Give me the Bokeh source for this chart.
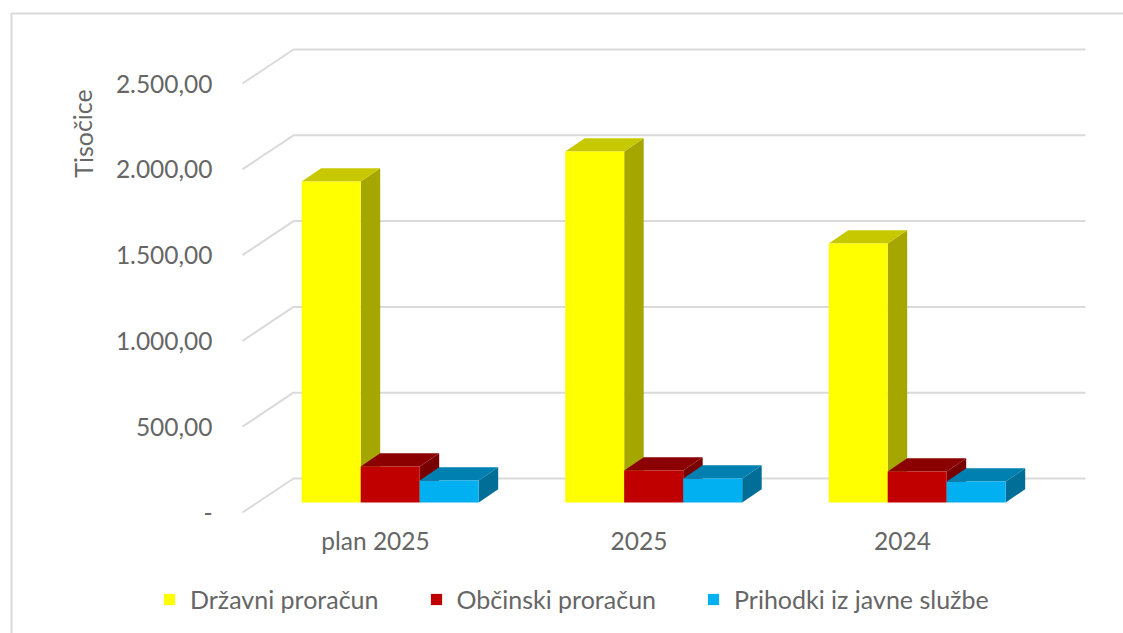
from bokeh.plotting import figure
from bokeh.models import Range1d, FixedTicker, Legend, LegendItem, BoxAnnotation, LinearAxis
from bokeh.core.properties import value
from bokeh.embed import file_html
from bokeh.resources import INLINE

categories = ["plan 2025", "2025", "2024"]
series_names = ["Državni proračun", "Občinski proračun", "Prihodki iz javne službe"]
drzavni = [1871, 2045, 1509]
obcinski = [210, 186, 181]
prihodki = [128, 140, 122]
axis_ticks = [0, 500, 1000, 1500, 2000, 2500]
axis_labels = ["-", "500,00", "1.000,00", "1.500,00", "2.000,00", "2.500,00"]
y_title = "Tisočice"

front_colors = ["#FFFF00", "#C00000", "#00B0F0"]
top_colors = ["#C8C800", "#8B0000", "#0080B0"]
side_colors = ["#A6A600", "#780000", "#006E96"]

# pixel geometry of the pseudo-3D projection
FONT = "Lato"
TXT = "#666666"
PX_X = 263.5           # pixels per category
PX_Y = 0.1716          # pixels per value unit
GROUP0 = 301.2
FRAME_L, FRAME_B = 242, 520
FLOOR_Y = 512
W, H = 1123, 633


def px_x(px):
    return (px - GROUP0) / PX_X


def px_y(px):
    return (FLOOR_Y - px) / PX_Y


bw = 59 / PX_X
bar_dx, bar_dy = 19.5 / PX_X, 13.3 / PX_Y
wall_dx, wall_dy = 51 / PX_X, 34 / PX_Y
inset = 10 / PX_Y
left_edge = px_x(FRAME_L)

p = figure(width=W, height=H, output_backend="svg", toolbar_location=None,
           x_range=Range1d(px_x(0), px_x(W)), y_range=Range1d(px_y(H), px_y(0)),
           min_border_left=0, min_border_right=0, min_border_top=0, min_border_bottom=0,
           outline_line_color=None, background_fill_color="white",
           border_fill_color="white", x_axis_type=None, y_axis_type=None)
p.grid.visible = False

# walls
for t in axis_ticks:
    p.line([left_edge, left_edge + wall_dx, px_x(1085)],
           [t, t + wall_dy, t + wall_dy], line_color="#DADADA", line_width=2)

# bars
items = []
n = len(categories)
for j, vals in enumerate([drzavni, obcinski, prihodki]):
    xl = [i + j * bw for i in range(n)]
    xr = [x + bw for x in xl]
    top = [v + inset for v in vals]
    p.patches([[r, r + bar_dx, r + bar_dx, r] for r in xr],
              [[inset, inset + bar_dy, t + bar_dy, t] for t in top],
              fill_color=side_colors[j], line_color=None)
    p.patches([[l, l + bar_dx, r + bar_dx, r] for l, r in zip(xl, xr)],
              [[t, t + bar_dy, t + bar_dy, t] for t in top],
              fill_color=top_colors[j], line_color=None)
    r = p.quad(left=xl, right=xr, bottom=[inset] * n, top=top,
               fill_color=front_colors[j], line_color=None)
    items.append(LegendItem(label=series_names[j], renderers=[r]))

# axes, pinned inside the full-canvas frame
yax = LinearAxis(ticker=FixedTicker(ticks=axis_ticks),
                 major_label_overrides=dict(zip(axis_ticks, axis_labels)),
                 fixed_location=left_edge, axis_line_color=None,
                 major_tick_line_color=None, minor_tick_line_color=None,
                 major_tick_out=0, major_tick_in=0, major_label_standoff=30,
                 major_label_text_font=FONT, major_label_text_font_size="24.5px",
                 major_label_text_color=TXT)
p.add_layout(yax, "left")

label_pos = [i + px_x(375) for i in range(n)]
xax = LinearAxis(ticker=FixedTicker(ticks=label_pos),
                 major_label_overrides=dict(zip(label_pos, categories)),
                 fixed_location=px_y(FRAME_B), axis_line_color=None,
                 major_tick_line_color=None, minor_tick_line_color=None,
                 major_tick_out=0, major_tick_in=0, major_label_standoff=5,
                 major_label_text_font=FONT, major_label_text_font_size="24.5px",
                 major_label_text_color=TXT)
p.add_layout(xax, "below")

p.text(x=[px_x(82)], y=[px_y(133)], text=[y_title], angle=1.5708, angle_units="rad",
       text_font=value(FONT), text_font_size="25px", text_color=TXT,
       text_align="center", text_baseline="middle")

legend = Legend(items=items, orientation="horizontal", location=(162, 633 - 614),
                glyph_width=14, glyph_height=14, label_standoff=14, spacing=50,
                border_line_color=None, background_fill_color=None, margin=0, padding=0,
                label_text_font=FONT, label_text_font_size="25px", label_text_color=TXT)
p.add_layout(legend)

# chart area border, running off the picture
p.add_layout(BoxAnnotation(left=11, right=W + 50, top=13, bottom=H + 50,
                           left_units="canvas", right_units="canvas",
                           top_units="canvas", bottom_units="canvas",
                           fill_color=None, line_color="#D9D9D9", line_alpha=1.0, line_width=2))

open("out.html", "w").write(file_html(p, INLINE))
